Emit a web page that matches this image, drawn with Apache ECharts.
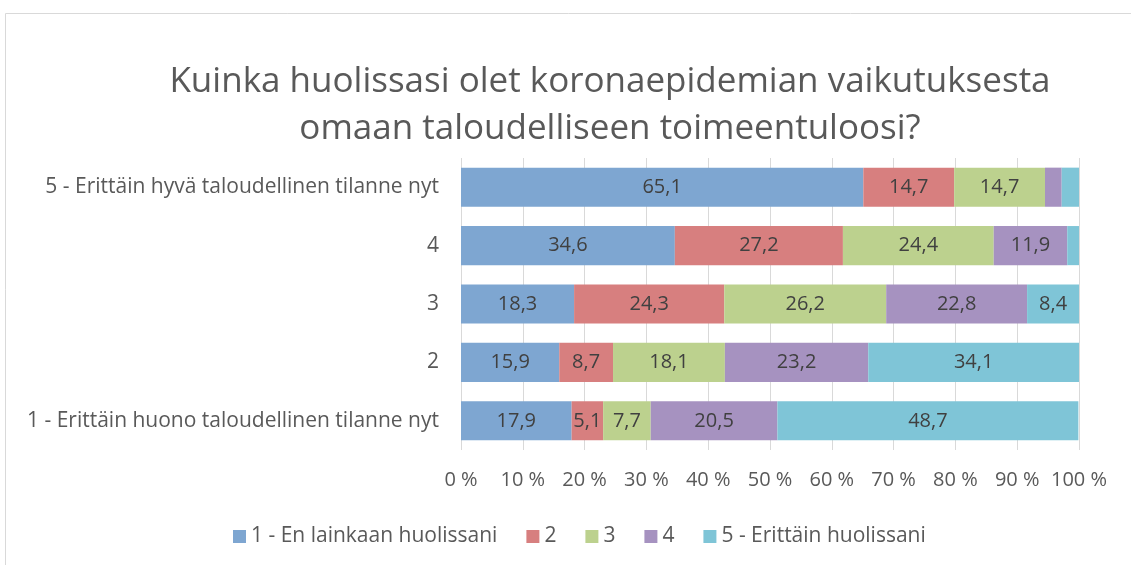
<!DOCTYPE html>
<html>
<head>
<meta charset="utf-8">
<script src="https://cdn.jsdelivr.net/npm/echarts@6/dist/echarts.min.js"></script>
<style>
  html, body { margin: 0; padding: 0; background: #fff; }
  #chart { width: 1131px; height: 565px; }
</style>
</head>
<body>
<div id="chart"></div>
<script>
// categories bottom -> top (yAxis category order)
const categories = [
  "1 - Erittäin huono taloudellinen tilanne nyt",
  "2",
  "3",
  "4",
  "5 - Erittäin hyvä taloudellinen tilanne nyt"
];
const seriesNames = ["1 - En lainkaan huolissani", "2", "3", "4", "5 - Erittäin huolissani"];
const seriesColors = ["#7ea6d1", "#d77f7f", "#bcd18e", "#a692c0", "#7fc5d7"];

const s1 = [17.9, 15.9, 18.3, 34.6, 65.1];
const s2 = [5.1, 8.7, 24.3, 27.2, 14.7];
const s3 = [7.7, 18.1, 26.2, 24.4, 14.7];
const s4 = [20.5, 23.2, 22.8, 11.9, 2.7];
const s5 = [48.7, 34.1, 8.4, 1.9, 2.8];
const values = [s1, s2, s3, s4, s5];

const font = "'Open Sans', 'Noto Sans', sans-serif";
const chart = echarts.init(document.getElementById("chart"));

chart.setOption({
  animation: false,
  textStyle: { fontFamily: font },
  graphic: [{
    type: "rect",
    shape: { x: 5.5, y: 13.5, width: 1300, height: 700 },
    style: { fill: "none", stroke: "#d9d9d9", lineWidth: 1 },
    silent: true
  }],
  title: {
    text: "Kuinka huolissasi olet koronaepidemian vaikutuksesta\nomaan taloudelliseen toimeentuloosi?",
    left: 605,
    textAlign: "center",
    top: 54,
    textStyle: {
      fontFamily: font,
      fontSize: 35,
      fontWeight: "normal",
      color: "#595959",
      lineHeight: 47
    }
  },
  legend: {
    bottom: 13,
    left: 228,
    itemWidth: 13,
    itemHeight: 13,
    itemGap: 29,
    icon: "rect",
    textStyle: { fontFamily: font, fontSize: 21, color: "#595959" },
    data: seriesNames
  },
  grid: { left: 461, right: 52, top: 158, bottom: 115 },
  xAxis: {
    type: "value",
    min: 0,
    max: 100,
    interval: 10,
    axisLine: { show: false },
    axisTick: { show: false },
    splitLine: { lineStyle: { color: "#d9d9d9", width: 1 } },
    axisLabel: {
      fontFamily: font,
      fontSize: 20,
      color: "#595959",
      margin: 20,
      formatter: v => v + " %"
    }
  },
  yAxis: {
    type: "category",
    data: categories,
    axisLine: { show: false },
    axisTick: { show: false },
    axisLabel: { fontFamily: font, fontSize: 21, color: "#595959", margin: 22 }
  },
  series: values.map((vals, i) => ({
    name: seriesNames[i],
    type: "bar",
    stack: "total",
    barWidth: "67%",
    itemStyle: { color: seriesColors[i] },
    label: {
      show: true,
      position: "inside",
      fontFamily: font,
      fontSize: 20,
      color: "#404040",
      formatter: p => p.value < 4 ? "" : String(p.value).replace(".", ",")
    },
    data: vals
  }))
});
</script>
</body>
</html>
